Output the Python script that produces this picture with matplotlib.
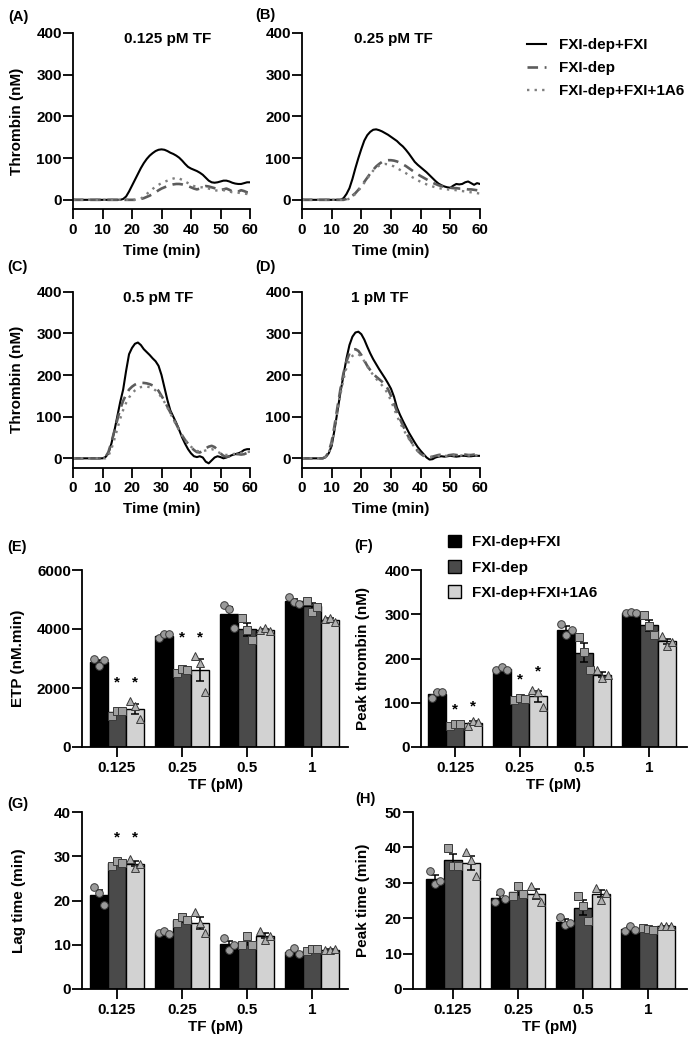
import numpy as np
import matplotlib
matplotlib.use("Agg")
import matplotlib.pyplot as plt
from matplotlib.lines import Line2D
from matplotlib.patches import Patch

plt.rcParams['font.family'] = ['Liberation Sans', 'DejaVu Sans']
plt.rcParams['font.weight'] = 'bold'
plt.rcParams['axes.labelweight'] = 'bold'
plt.rcParams['font.size'] = 11
plt.rcParams['axes.linewidth'] = 1.3

FS = 11

# ---------------------------------------------------------------
# thrombin generation curves (nM), one value per minute 0..60
# ---------------------------------------------------------------
time_min = np.arange(0, 61)

a_fxi = [0] * 17 + [2, 8, 20, 34, 48, 62, 76, 88, 98, 106, 112, 117, 120, 121, 120, 117,
                    113, 110, 106, 101, 94, 86, 79, 75, 72, 69, 65, 60, 53, 46, 42, 41,
                    42, 44, 46, 46, 44, 41, 39, 38, 38, 40, 42, 42]
a_dep = [0] * 23 + [2, 4, 7, 10, 14, 18, 23, 27, 30, 33, 35, 37, 38, 38, 37, 35, 33, 30,
                    27, 25, 27, 31, 33, 32, 30, 28, 26, 24, 25, 27, 24, 20, 18, 20, 23,
                    21, 18, 17]
a_1a6 = [0] * 23 + [3, 8, 14, 20, 26, 32, 36, 40, 43, 46, 49, 51, 53, 51, 48, 44, 40, 36,
                    33, 31, 30, 30, 29, 27, 25, 23, 22, 22, 23, 22, 20, 18, 17, 17, 16,
                    15, 14, 14]

b_fxi = [0] * 14 + [4, 14, 28, 50, 76, 100, 122, 142, 155, 163, 168, 169, 167, 164, 160,
                    156, 151, 146, 141, 134, 128, 120, 111, 101, 91, 84, 78, 72, 66, 59,
                    52, 45, 39, 35, 32, 30, 29, 34, 38, 37, 38, 42, 44, 40, 36, 40, 38]
b_dep = [0] * 15 + [2, 5, 10, 16, 24, 33, 43, 53, 63, 72, 80, 86, 91, 94, 95, 95, 94, 92,
                    89, 85, 81, 76, 71, 66, 61, 57, 53, 49, 45, 41, 38, 35, 33, 31, 30,
                    29, 28, 28, 27, 27, 26, 25, 25, 24, 23, 22]
b_1a6 = [0] * 16 + [3, 8, 14, 22, 31, 41, 51, 61, 70, 77, 82, 85, 86, 85, 83, 80, 76, 72,
                    68, 64, 59, 55, 51, 47, 43, 40, 37, 34, 32, 30, 28, 27, 26, 25, 24,
                    24, 23, 22, 21, 20, 19, 18, 17, 16, 15]

c_fxi = [0] * 11 + [3, 12, 35, 65, 100, 135, 165, 210, 250, 265, 275, 278, 272, 262, 255,
                    248, 240, 233, 222, 200, 170, 140, 115, 100, 85, 68, 50, 35, 22, 12,
                    5, 3, 5, 2, -8, -12, -5, 2, 5, 3, 0, 2, 5, 8, 10, 12, 15, 20, 22, 22]
c_dep = [0] * 11 + [3, 15, 38, 65, 92, 118, 138, 153, 165, 172, 177, 180, 181, 181, 180,
                    178, 175, 170, 162, 150, 138, 124, 110, 96, 82, 68, 55, 44, 35, 27,
                    20, 15, 14, 18, 24, 28, 30, 27, 20, 12, 6, 4, 5, 8, 10, 10, 9, 10,
                    13, 16]
c_1a6 = [0] * 12 + [6, 22, 45, 70, 95, 116, 133, 146, 156, 163, 168, 171, 172, 172, 171,
                    168, 163, 156, 146, 135, 122, 108, 94, 80, 67, 55, 44, 35, 28, 22,
                    18, 16, 17, 19, 21, 22, 20, 16, 12, 9, 8, 9, 10, 11, 12, 13, 14, 15,
                    16]

d_fxi = [0] * 8 + [3, 12, 30, 70, 115, 160, 200, 240, 272, 292, 302, 304, 298, 285, 268,
                   252, 238, 226, 214, 203, 192, 180, 167, 148, 122, 105, 90, 76, 62, 50,
                   38, 27, 18, 10, 2, -3, -2, 2, 4, 5, 4, 5, 6, 5, 4, 5, 6, 6, 5, 5, 6,
                   6, 6]
d_dep = [0] * 8 + [4, 15, 40, 80, 125, 168, 205, 233, 252, 261, 262, 258, 248, 235, 222,
                   212, 203, 196, 190, 184, 177, 166, 150, 132, 113, 95, 79, 64, 50, 38,
                   27, 18, 11, 6, 3, 2, 4, 6, 8, 9, 8, 7, 8, 9, 8, 7, 8, 9, 8, 8, 9, 8, 8]
d_1a6 = [0] * 8 + [3, 13, 35, 72, 115, 155, 190, 218, 236, 246, 250, 250, 244, 233, 221,
                   210, 200, 191, 183, 175, 166, 154, 138, 120, 102, 86, 72, 59, 47, 36,
                   26, 18, 12, 7, 4, 3, 4, 5, 6, 6, 6, 6, 7, 7, 6, 6, 7, 7, 7, 7, 7, 7, 7]

curve_titles = ['0.125 pM TF', '0.25 pM TF', '0.5 pM TF', '1 pM TF']
title_x = [32, 30.7, 28.8, 26.3]

# ---------------------------------------------------------------
# bar chart data: 3 replicates per TF concentration
# ---------------------------------------------------------------
tf_labels = ['0.125', '0.25', '0.5', '1']
group_names = ['FXI-dep+FXI', 'FXI-dep', 'FXI-dep+FXI+1A6']

etp_fxi = [[2970, 2750, 2950], [3690, 3820, 3820], [4800, 4680, 4050], [5080, 4900, 4840]]
etp_dep = [[1050, 1230, 1230], [2500, 2660, 2620], [4380, 3980, 3620], [4960, 4580, 4760]]
etp_1a6 = [[1550, 1380, 950], [3100, 2850, 1870], [3960, 4020, 3940], [4330, 4380, 4230]]

peak_fxi = [[111, 125, 125], [175, 180, 175], [279, 253, 264], [302, 304, 303]]
peak_dep = [[47, 52, 52], [107, 110, 109], [249, 215, 174], [298, 274, 254]]
peak_1a6 = [[47, 59, 57], [128, 124, 91], [174, 155, 162], [250, 229, 238]]

lag_fxi = [[23.0, 21.8, 19.0], [12.6, 13.0, 12.5], [11.5, 8.9, 10.0], [8.1, 9.3, 7.9]]
lag_dep = [[27.9, 29.0, 28.5], [14.9, 16.2, 15.5], [10.0, 11.9, 10.0], [8.5, 9.0, 9.0]]
lag_1a6 = [[29.4, 27.3, 28.3], [17.4, 14.9, 12.6], [13.0, 11.1, 12.0], [8.8, 8.9, 9.0]]

ptime_fxi = [[33.2, 29.8, 30.4], [24.5, 27.3, 25.4], [20.3, 18.0, 18.6], [16.3, 17.9, 16.8]]
ptime_dep = [[39.8, 34.8, 34.8], [26.4, 29.2, 26.8], [26.4, 23.4, 19.1], [17.2, 16.9, 16.8]]
ptime_1a6 = [[38.6, 36.5, 32.0], [29.2, 26.9, 24.5], [28.5, 25.2, 27.1], [17.9, 17.7, 17.7]]

# asterisks: (TF index, series index, y)
etp_stars = [(0, 1, 2200), (0, 2, 2200), (1, 1, 3700), (1, 2, 3700)]
peak_stars = [(0, 1, 84), (0, 2, 91), (1, 1, 152), (1, 2, 170)]
lag_stars = [(0, 1, 34.3), (0, 2, 34.3)]
ptime_stars = []

bar_colors = ['#000000', '#4a4a4a', '#d2d2d2']
pt_markers = ['o', 's', '^']
pt_colors = ['#9a9a9a', '#a0a0a0', '#b0b0b0']

W, H = 694, 1050
fig = plt.figure(figsize=(W / 100, H / 100), dpi=100)


def px_axes(left, top, right, bottom):
    return fig.add_axes([left / W, 1 - bottom / H, (right - left) / W, (bottom - top) / H])


def style(ax):
    ax.spines['top'].set_visible(False)
    ax.spines['right'].set_visible(False)
    ax.tick_params(axis='y', length=7, width=1.3, pad=1, labelsize=FS)
    ax.tick_params(axis='x', length=7, width=1.3, pad=3, labelsize=FS)


# ---------------------------------------------------------------
# curves (A-D)
# ---------------------------------------------------------------
curve_sets = [(a_fxi, a_dep, a_1a6), (b_fxi, b_dep, b_1a6),
              (c_fxi, c_dep, c_1a6), (d_fxi, d_dep, d_1a6)]
curve_boxes = [(73, 33, 250, 209), (302, 33, 480, 209),
               (73, 291.7, 250, 467.5), (302, 291.7, 480, 467.5)]

for i, (box, series) in enumerate(zip(curve_boxes, curve_sets)):
    ax = px_axes(*box)
    fxi, dep, a6 = series
    ax.plot(time_min, fxi, color='black', lw=1.5)
    ax.plot(time_min, dep, color='#5c5c5c', lw=1.9, dashes=(4, 2.5))
    ax.plot(time_min, a6, color='#7f7f7f', lw=1.7, dashes=(1, 2.2))
    ax.set_xlim(0, 60)
    ax.set_ylim(-22, 400)
    ax.set_xticks(range(0, 61, 10))
    ax.set_yticks(range(0, 401, 100))
    style(ax)
    ax.set_xlabel('Time (min)', fontsize=FS, labelpad=5)
    if i % 2 == 0:
        ax.set_ylabel('Thrombin (nM)', fontsize=FS)
        ax.yaxis.set_label_coords(-0.277, 0.5)
    ax.text(title_x[i], 386, curve_titles[i], ha='center', va='center',
            fontsize=FS, fontweight='bold')

line_handles = [Line2D([], [], color='black', lw=1.5),
                Line2D([], [], color='#5c5c5c', lw=1.9, dashes=(4, 2.5)),
                Line2D([], [], color='#7f7f7f', lw=1.7, dashes=(1, 2.2))]
fig.legend(line_handles, group_names, loc='upper left',
           bbox_to_anchor=(527 / W, 1 - 38 / H), frameon=False,
           handlelength=1.27, handletextpad=0.85, labelspacing=0.6, borderpad=0,
           borderaxespad=0, prop={'weight': 'bold', 'size': FS})

# ---------------------------------------------------------------
# bar charts (E-H)
# ---------------------------------------------------------------
bw = 0.277
bar_panels = [
    ((82, 570, 348, 747), (-0.538, 3.554), (etp_fxi, etp_dep, etp_1a6), 6000, 2000,
     'ETP (nM.min)', -0.214, etp_stars),
    ((421, 570, 687, 747), (-0.526, 3.587), (peak_fxi, peak_dep, peak_1a6), 400, 100,
     'Peak thrombin (nM)', -0.192, peak_stars),
    ((82, 812, 348, 989), (-0.538, 3.554), (lag_fxi, lag_dep, lag_1a6), 40, 10,
     'Lag time (min)', -0.211, lag_stars),
    ((413, 812, 687, 989), (-0.615, 3.6), (ptime_fxi, ptime_dep, ptime_1a6), 50, 10,
     'Peak time (min)', -0.157, ptime_stars),
]

x = np.arange(len(tf_labels))
for box, xl, groups, ymax, ystep, ylabel, ylx, stars in bar_panels:
    ax = px_axes(*box)
    for k, reps in enumerate(groups):
        reps = np.array(reps, dtype=float)
        means = reps.mean(axis=1)
        sem = reps.std(axis=1, ddof=1) / np.sqrt(reps.shape[1])
        xs = x + (k - 1) * bw
        ax.bar(xs, means, width=bw, color=bar_colors[k], edgecolor='black',
               linewidth=1.0, zorder=2)
        ax.errorbar(xs, means, yerr=sem, fmt='none', ecolor='black', elinewidth=1.1,
                    capsize=3, capthick=1.1, zorder=3)
        for j in range(len(tf_labels)):
            px = xs[j] + np.array([-0.3, 0.0, 0.3]) * bw
            ax.plot(px, reps[j], ls='none', marker=pt_markers[k], ms=5.5,
                    mfc=pt_colors[k], mec='#3a3a3a', mew=0.7, zorder=4, clip_on=False)
    for j, k, yv in stars:
        ax.text(x[j] + (k - 1) * bw, yv, '*', ha='center', va='center',
                fontsize=FS, fontweight='bold')
    ax.set_xlim(*xl)
    ax.set_ylim(0, ymax)
    ax.set_yticks(np.arange(0, ymax + 1, ystep))
    ax.set_xticks(x)
    ax.set_xticklabels(tf_labels)
    style(ax)
    ax.set_xlabel('TF (pM)', fontsize=FS, labelpad=2)
    ax.set_ylabel(ylabel, fontsize=FS)
    ax.yaxis.set_label_coords(ylx, 0.5)

bar_handles = [Patch(facecolor=c, edgecolor='black', linewidth=1.0) for c in bar_colors]
fig.legend(bar_handles, group_names, loc='upper left',
           bbox_to_anchor=(448 / W, 1 - 535 / H), frameon=False,
           handlelength=0.87, handleheight=0.87, handletextpad=0.73, labelspacing=0.7,
           borderpad=0, borderaxespad=0, prop={'weight': 'bold', 'size': FS})

# panel letters
letters = [('(A)', 8, 17), ('(B)', 255, 15), ('(C)', 7, 267), ('(D)', 255, 267),
           ('(E)', 7, 547), ('(F)', 354, 546), ('(G)', 7, 804), ('(H)', 355, 799)]
for s, lx, ly in letters:
    fig.text(lx / W, 1 - ly / H, s, ha='left', va='center', fontsize=FS - 0.5,
             fontweight='bold')

fig.savefig('out.png', dpi=100)
